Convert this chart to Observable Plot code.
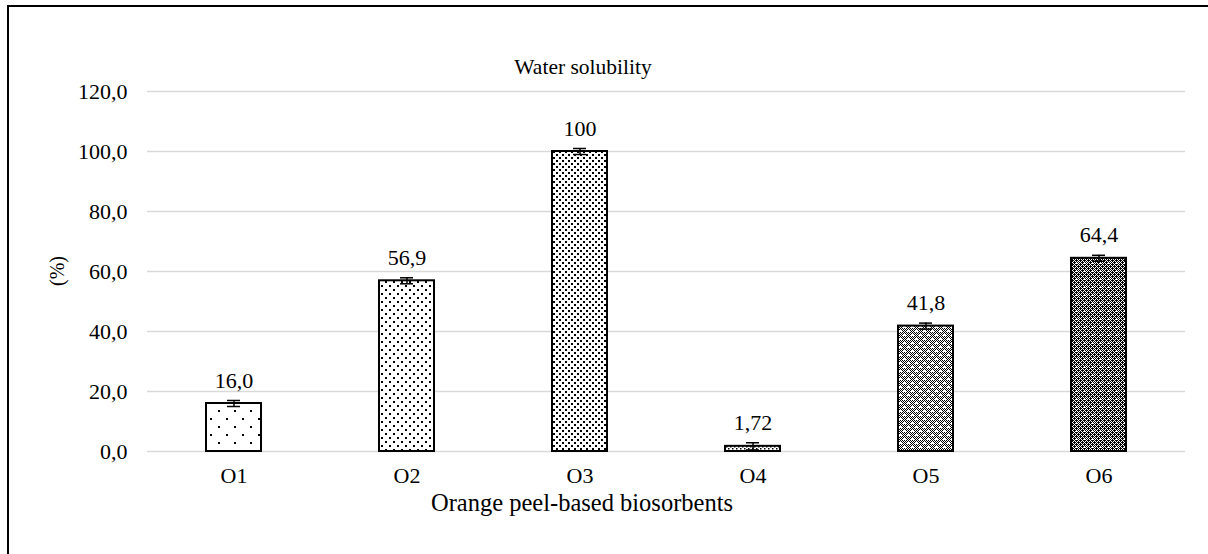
<!DOCTYPE html>
<html>
<head>
<meta charset="utf-8">
<script src="https://cdn.jsdelivr.net/npm/d3@7"></script>
<script src="https://cdn.jsdelivr.net/npm/@observablehq/plot@0.6"></script>
<style>
  html, body { margin: 0; padding: 0; background: #fff; }
  body { width: 1208px; height: 554px; position: relative; overflow: hidden; }
  #frame { position: absolute; left: 7px; top: 5px; width: 1300px; height: 700px; border-left: 2px solid #000; border-top: 2px solid #000; box-sizing: border-box; }
  #chart { position: absolute; left: 0; top: 0; }
  .lbl { position: absolute; color: #000; white-space: nowrap; }
  #title { left: 583px; top: 67px; transform: translate(-50%, -50%); }
  #xlab { left: 582px; top: 503px; transform: translate(-50%, -50%); }
  #ylab { left: 57px; top: 271px; transform: translate(-50%, -50%) rotate(-90deg); }
</style>
</head>
<body>
<div id="frame"></div>
<div id="chart"></div>
<div class="lbl" id="title" style="font-family:'Liberation Serif';font-size:21.5px">Water solubility</div>
<div class="lbl" id="xlab" style="font-family:'Liberation Serif';font-size:24.5px">Orange peel-based biosorbents</div>
<div class="lbl" id="ylab" style="font-family:'Liberation Serif';font-size:20px">(%)</div>
<script>
// ---- data ----
const categories = ["O1", "O2", "O3", "O4", "O5", "O6"];
const values = [16.0, 56.9, 100.0, 1.72, 41.8, 64.4];
const errors = [1.0, 1.0, 1.0, 1.2, 1.0, 1.0];
const valueLabels = ["16,0", "56,9", "100", "1,72", "41,8", "64,4"];
const yTicks = [0, 20, 40, 60, 80, 100, 120];
const patternIds = ["p1", "p2", "p3", "p4", "p5", "p6"];

const rows = categories.map((c, i) => ({
  cat: c, v: values[i], lo: values[i] - errors[i], hi: values[i] + errors[i],
  label: valueLabels[i], fill: `url(#${patternIds[i]})`
}));

const chart = Plot.plot({
  width: 1208,
  height: 554,
  marginLeft: 147,
  marginRight: 23,
  marginTop: 91,
  marginBottom: 103,
  style: { fontSize: "22px", color: "#000", background: "transparent" },
  x: { domain: categories, paddingInner: 0.68, paddingOuter: 0.34, label: null, tickSize: 0, tickPadding: 16 },
  y: { domain: [0, 120], ticks: yTicks, tickFormat: d => d.toFixed(1).replace(".", ","), label: null, tickSize: 0, tickPadding: 20 },
  color: { type: "identity" },
  marks: [
    Plot.ruleY(yTicks, { stroke: "#d9d9d9", strokeWidth: 1.5 }),
    Plot.barY(rows, { x: "cat", y: "v", fill: "fill", stroke: "#000", strokeWidth: 2 }),
    Plot.ruleX(rows, { x: "cat", y1: "lo", y2: "hi", stroke: "#000", strokeWidth: 1.5 }),
    Plot.tickY(rows, { x: "cat", y: "lo", stroke: "#000", strokeWidth: 1.5, inset: 21 }),
    Plot.tickY(rows, { x: "cat", y: "hi", stroke: "#000", strokeWidth: 1.5, inset: 21 }),
    Plot.text(rows, { x: "cat", y: "hi", text: "label", dy: -20, fontSize: 22, fill: "#000" })
  ]
});
chart.style.fontFamily = "'Liberation Serif'";
chart.querySelectorAll("g, text").forEach(el => { el.style.fontFamily = "'Liberation Serif'"; });

// ---- patterns (styling) ----
const NS = "http://www.w3.org/2000/svg";
const defs = document.createElementNS(NS, "defs");
function dotPattern(id, size, pts, r) {
  const p = document.createElementNS(NS, "pattern");
  p.setAttribute("id", id); p.setAttribute("patternUnits", "userSpaceOnUse");
  p.setAttribute("width", size); p.setAttribute("height", size);
  const bg = document.createElementNS(NS, "rect");
  bg.setAttribute("width", size); bg.setAttribute("height", size); bg.setAttribute("fill", "#fff");
  p.appendChild(bg);
  for (const [x, y] of pts) {
    const c = document.createElementNS(NS, "rect");
    c.setAttribute("x", x); c.setAttribute("y", y);
    c.setAttribute("width", r); c.setAttribute("height", r); c.setAttribute("fill", "#000");
    p.appendChild(c);
  }
  defs.appendChild(p);
}
function bitmapPattern(id, bitmap) {
  const w = bitmap[0].length;
  const pts = [];
  bitmap.forEach((row, y) => [...row].forEach((ch, x) => { if (ch === "1") pts.push([x, y]); }));
  dotPattern(id, w, pts, 1);
}
dotPattern("p1", 16, [[2, 2], [10, 10]], 2);
dotPattern("p2", 8, [[1, 1], [5, 5]], 2);
dotPattern("p3", 6, [[1, 1], [4, 4]], 2);
dotPattern("p4", 4, [[0, 0], [2, 2]], 1.5);
bitmapPattern("p5", [
  "10101010",
  "01010101",
  "10100010",
  "01000001",
  "10101010",
  "01010101",
  "00101010",
  "00010100"
]);
bitmapPattern("p6", [
  "11011101",
  "10101010",
  "01110111",
  "10101010",
  "11011101",
  "10101010",
  "01110101",
  "10100010"
]);
chart.insertBefore(defs, chart.firstChild);
document.getElementById("chart").appendChild(chart);
</script>
</body>
</html>
